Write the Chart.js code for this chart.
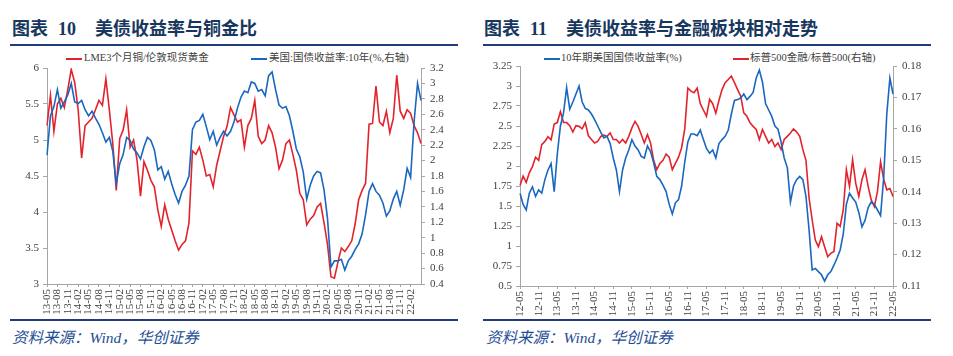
<!DOCTYPE html>
<html><head><meta charset="utf-8">
<script src="https://cdn.jsdelivr.net/npm/chart.js@4.4.1/dist/chart.umd.min.js"></script>
<style>
html,body{margin:0;padding:0;background:#fff;}
body{width:953px;height:356px;position:relative;overflow:hidden;font-family:"Liberation Serif","Noto Sans CJK SC",serif;}
.title{position:absolute;top:15px;font-family:"Noto Sans CJK SC",sans-serif;font-weight:700;font-size:18px;color:#17375e;white-space:nowrap;line-height:24px;}
.title .num{font-family:"Liberation Serif",serif;font-weight:700;margin-left:10px;}
.title .txt{margin-left:19px;}
.rule{position:absolute;height:2px;background:#1f3d7a;}
.src{position:absolute;top:328px;font-style:italic;font-size:15.5px;color:#1f4e96;white-space:nowrap;font-family:"Liberation Serif","Noto Sans CJK SC",serif;line-height:20px;}
.leg{position:absolute;top:51px;font-size:10.5px;color:#404040;white-space:nowrap;line-height:14px;font-family:"Liberation Serif","Noto Sans CJK SC",serif;}
.ln{position:absolute;top:57.5px;height:2px;width:16px;}
canvas{position:absolute;top:48px;}
</style>
</head><body>

<div class="title" style="left:12px">图表<span class="num">10</span><span class="txt">美债收益率与铜金比</span></div>
<div class="rule" style="left:10px;top:44px;width:448px"></div>
<div class="ln" style="left:66px;background:#e3232c"></div>
<div class="leg" style="left:84px">LME3个月铜/伦敦现货黄金</div>
<div class="ln" style="left:251px;background:#1a67c0"></div>
<div class="leg" style="left:269px">美国:国债收益率:10年(%,右轴)</div>
<canvas id="c1" width="470" height="270" style="left:0px"></canvas>
<div class="rule" style="left:10px;top:319px;width:448px"></div>
<div class="src" style="left:12px">资料来源：Wind，华创证券</div>

<div class="title" style="left:484px">图表<span class="num">11</span><span class="txt">美债收益率与金融板块相对走势</span></div>
<div class="rule" style="left:483px;top:44px;width:448px"></div>
<div class="ln" style="left:544px;background:#1a67c0"></div>
<div class="leg" style="left:561px">10年期美国国债收益率(%)</div>
<div class="ln" style="left:733px;background:#e3232c"></div>
<div class="leg" style="left:750px">标普500金融/标普500(右轴)</div>
<canvas id="c2" width="477" height="270" style="left:476px"></canvas>
<div class="rule" style="left:483px;top:319px;width:448px"></div>
<div class="src" style="left:486px">资料来源：Wind，华创证券</div>

<script>
// ---------- Chart 10: monthly, 2013-05 .. 2022-05 ----------
const c1Start = [2013, 5];
const c1Count = 109;
const copperGold = [
 5.2,5.62,5.12,5.5,5.58,5.45,5.7,5.98,5.8,5.42,
 4.75,5.2,5.25,5.3,5.42,5.55,5.48,5.85,5.42,4.95,
 4.3,5.02,5.14,5.42,4.9,5.0,4.72,4.22,4.7,4.58,
 4.44,4.35,4.03,3.8,4.1,3.9,3.75,3.6,3.47,3.55,
 3.6,3.85,4.85,4.8,4.9,4.72,4.5,4.52,4.35,4.65,
 4.85,5.05,5.19,5.45,5.35,5.25,5.28,4.9,5.2,5.3,
 5.55,5.05,4.95,5.0,5.2,5.1,4.9,4.6,4.72,4.95,
 5.0,4.8,4.58,4.26,4.17,3.82,3.9,3.95,4.07,4.12,
 3.85,3.55,3.1,3.08,3.3,3.5,3.45,3.52,3.6,3.84,
 4.17,4.3,4.4,5.22,5.23,5.75,5.25,5.2,5.4,5.1,
 5.3,5.9,5.4,5.3,5.42,5.37,5.2,5.1,4.95];
const ust10yA = [
 2.07,2.58,2.7,2.92,2.68,2.76,2.85,3.0,2.76,2.74,
 2.78,2.66,2.58,2.64,2.55,2.47,2.36,2.24,2.3,2.12,
 1.7,1.96,2.08,2.3,2.26,2.15,2.1,2.02,2.18,2.3,
 2.26,2.14,1.88,1.92,1.76,1.86,1.7,1.56,1.45,1.6,
 1.68,1.8,2.4,2.5,2.52,2.6,2.44,2.27,2.38,2.2,
 2.3,2.38,2.32,2.38,2.5,2.68,2.82,2.9,2.88,3.02,
 3.0,2.9,2.92,2.84,3.1,3.15,2.92,2.72,2.68,2.7,
 2.58,2.38,2.15,2.05,1.85,1.5,1.68,1.8,1.86,1.84,
 1.62,1.25,0.62,0.7,0.7,0.72,0.58,0.7,0.76,0.85,
 0.92,1.05,1.3,1.6,1.7,1.6,1.55,1.45,1.28,1.35,
 1.5,1.6,1.42,1.62,1.9,1.78,2.5,3.0,2.78];
const c1LeftTicks = [3, 6, 0.5];
const c1RightTicks = [0.4, 3.2, 0.2];

// ---------- Chart 11: monthly, 2012-05 .. 2022-05 ----------
const c2Start = [2012, 5];
const c2Count = 121;
const ust10yB = [
 1.66,1.52,1.45,1.66,1.74,1.62,1.7,1.66,1.83,1.95,
 2.03,1.68,2.15,2.5,2.66,2.98,2.71,2.8,2.9,3.0,
 2.8,2.72,2.7,2.65,2.58,2.5,2.42,2.35,2.37,2.28,
 2.1,1.95,1.68,1.95,2.1,2.2,2.33,2.25,2.2,2.12,
 2.1,2.25,2.18,2.04,1.87,1.83,1.76,1.68,1.52,1.4,
 1.54,1.58,1.75,2.05,2.3,2.4,2.4,2.38,2.45,2.33,
 2.22,2.16,2.2,2.1,2.28,2.33,2.37,2.45,2.65,2.82,
 2.83,2.85,2.9,2.83,2.87,2.92,3.1,3.2,3.05,2.78,
 2.7,2.62,2.5,2.46,2.3,2.1,1.98,1.55,1.75,1.83,
 1.87,1.83,1.62,1.2,0.7,0.72,0.68,0.64,0.56,0.64,
 0.68,0.76,0.85,0.95,1.15,1.52,1.66,1.6,1.55,1.42,
 1.24,1.32,1.48,1.55,1.52,1.45,1.38,1.85,2.65,3.1,
 2.9];
const finRatio = [
 0.142,0.145,0.143,0.146,0.148,0.151,0.150,0.155,0.156,0.1575,
 0.1565,0.1615,0.162,0.1655,0.162,0.162,0.161,0.159,0.161,0.1608,
 0.160,0.162,0.1578,0.1566,0.1555,0.156,0.1576,0.158,0.1576,0.1587,
 0.1566,0.1566,0.1555,0.1566,0.1555,0.1576,0.1603,0.1624,0.1608,0.1582,
 0.1555,0.1582,0.1555,0.150,0.147,0.149,0.150,0.152,0.151,0.147,
 0.149,0.151,0.154,0.160,0.173,0.172,0.1715,0.173,0.168,0.166,
 0.164,0.1694,0.168,0.165,0.169,0.1725,0.1747,0.1757,0.1768,0.1747,
 0.1725,0.1704,0.1651,0.164,0.1619,0.1608,0.1598,0.1566,0.1598,0.1576,
 0.1555,0.1566,0.1544,0.1555,0.1534,0.1566,0.1576,0.1587,0.160,0.159,
 0.1576,0.1534,0.150,0.138,0.131,0.1246,0.1225,0.1257,0.1225,0.1193,
 0.1204,0.121,0.130,0.129,0.1342,0.147,0.1417,0.1502,0.1427,0.1385,
 0.1438,0.147,0.1417,0.1374,0.1353,0.140,0.1495,0.144,0.1406,0.141,
 0.1385];
const c2LeftTicks = [0.5, 3.25, 0.25];
const c2RightTicks = [0.11, 0.18, 0.01];

const RED = '#e3232c', BLUE = '#1a67c0';
const AXIS = '#a6a6a6', TICK = '#404040';
const tickFont = {family: '"Liberation Serif", serif', size: 11};

function monthLabels(start, n) {
  const out = [];
  let y = start[0], m = start[1];
  for (let i = 0; i < n; i++) {
    out.push(String(y % 100).padStart(2, '0') + '-' + String(m).padStart(2, '0'));
    m++; if (m > 12) { m = 1; y++; }
  }
  return out;
}

function yAxis(pos, t, width, pad) {
  return {
    type: 'linear', position: pos, min: t[0], max: t[1],
    ticks: {stepSize: t[2], autoSkip: false, font: tickFont, color: TICK, padding: pad,
      callback(v) { return String(parseFloat(Number(v).toFixed(4))); }},
    grid: {drawOnChartArea: false, drawTicks: true, tickLength: 4, color: AXIS},
    border: {display: true, color: AXIS},
    afterFit(s) { s.width = width; }
  };
}
function xAxis(every, lastIdx, height) {
  return {
    type: 'category',
    ticks: {autoSkip: false, minRotation: 90, maxRotation: 90, font: tickFont, color: TICK, padding: 2,
      callback(v, i) { return (i % every === 0 && i <= lastIdx) ? this.getLabelForValue(v) : null; }},
    grid: {drawOnChartArea: false, drawTicks: true, tickLength: 3, color: AXIS},
    border: {display: true, color: AXIS},
    afterFit(s) { s.height = height; }
  };
}
function line(label, data, color, axis, order) {
  return {label, data, borderColor: color, backgroundColor: color, borderWidth: 1.6,
    pointRadius: 0, tension: 0, yAxisID: axis, order};
}
const common = {
  responsive: false, animation: false, devicePixelRatio: 1,
  plugins: {legend: {display: false}, tooltip: {enabled: false}},
  events: []
};

new Chart(document.getElementById('c1'), {
  type: 'line',
  data: {
    labels: monthLabels(c1Start, c1Count),
    datasets: [
      line('LME3个月铜/伦敦现货黄金', copperGold, RED, 'y', 1),
      line('美国:国债收益率:10年(%,右轴)', ust10yA, BLUE, 'y1', 0)
    ]
  },
  options: Object.assign({}, common, {
    layout: {padding: {top: 20, left: 0, right: 0, bottom: 0}},
    scales: {
      x: xAxis(3, 105, 34),
      y: yAxis('left', c1LeftTicks, 47, 4),
      y1: yAxis('right', c1RightTicks, 49, 5)
    }
  })
});

new Chart(document.getElementById('c2'), {
  type: 'line',
  data: {
    labels: monthLabels(c2Start, c2Count),
    datasets: [
      line('10年期美国国债收益率(%)', ust10yB, BLUE, 'y', 0),
      line('标普500金融/标普500(右轴)', finRatio, RED, 'y1', 1)
    ]
  },
  options: Object.assign({}, common, {
    layout: {padding: {top: 18, left: 0, right: 0, bottom: 0}},
    scales: {
      x: xAxis(6, 120, 32),
      y: yAxis('left', c2LeftTicks, 44, 4),
      y1: yAxis('right', c2RightTicks, 60, 5)
    }
  })
});
</script>
</body></html>
